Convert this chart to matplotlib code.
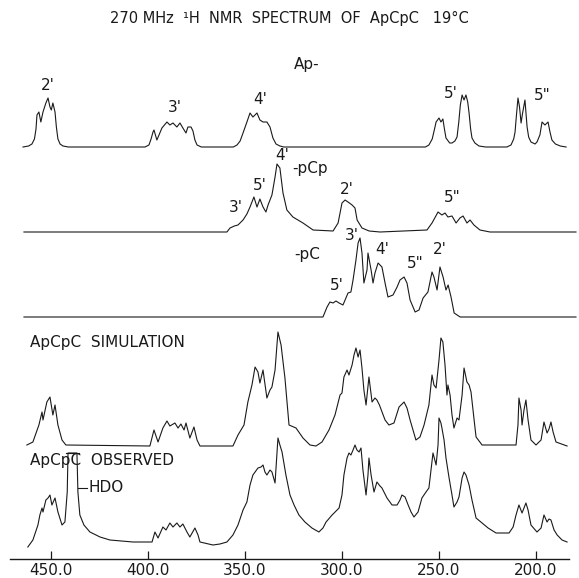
import numpy as np
import matplotlib
matplotlib.use("Agg")
import matplotlib.pyplot as plt

# chemical shift in Hz from TSP (270 MHz), intensities in arbitrary units

ap_hz = [464.4, 461.5, 459.8, 458.5, 457.7, 457.2, 456.2, 455.2, 454.1, 452.6, 451.5, 450.5, 449.8, 449.0,
         447.9, 447.2, 446.4, 445.3, 443.8, 441.0,
         401.5, 399.5, 398.4, 397.4, 396.9, 395.4, 394.3, 392.8, 390.2, 388.7, 387.1, 385.1, 383.5, 382.0,
         380.4, 379.4, 377.8, 376.8, 375.8, 374.7, 372.5,
         356.0, 354.1, 352.5, 351.0, 349.0, 347.4, 345.9, 343.8, 342.3, 340.7, 338.7, 337.1, 335.6, 334.0,
         332.0, 330.0,
         257.0, 255.2, 253.5, 252.3, 251.5, 250.0, 249.0, 248.0, 247.2, 246.4, 244.5, 243.3, 241.8, 240.7,
         239.8, 239.0, 238.1, 237.1, 236.1, 235.2, 234.5, 233.7, 233.0, 231.5, 229.4, 226.0,
         215.0, 212.9, 211.5, 210.8, 210.3, 209.3, 208.5, 207.7, 207.0, 205.7, 204.6, 203.8, 202.6, 200.5,
         199.5, 198.0, 196.9, 195.4, 193.8, 192.8, 191.8, 190.0, 187.5, 184.5]
ap_int = [0, 1, 3, 8, 18, 32, 35, 25, 35, 44, 49, 40, 37, 44,
          35, 20, 8, 3, 1, 0,
          0, 2, 8, 15, 17, 7, 12, 19, 25, 22, 24, 20, 24, 19,
          14, 20, 20, 16, 7, 2, 0,
          0, 2, 6, 14, 25, 34, 30, 34, 27, 25, 25, 20, 9, 3,
          1, 0,
          0, 2, 8, 18, 25, 29, 25, 28, 18, 9, 4, 4, 6, 10,
          25, 42, 52, 47, 52, 45, 34, 18, 9, 4, 1, 0,
          0, 2, 8, 15, 27, 49, 40, 24, 33, 47, 20, 10, 5, 3,
          5, 12, 25, 22, 25, 15, 7, 3, 1, 0]

pcp_hz = [463.9, 359.3, 357.7, 355.5, 353.6, 351.0, 349.0, 347.4, 345.4, 343.8, 342.3, 340.7, 339.2, 338.1,
          336.1, 334.5, 333.5, 332.0, 330.4, 328.4, 325.3, 320.1, 314.9, 304.6, 302.0, 300.0, 298.4,
          296.9, 294.8, 293.3, 292.2, 289.7, 286.0, 280.4, 256.2, 253.6, 250.5, 248.5, 246.9, 245.4,
          243.3, 241.2, 239.2, 237.6, 235.6, 234.0, 232.0, 228.9, 223.7, 179.4]
pcp_int = [0, 0, 4, 6, 7, 12, 18, 25, 35, 25, 33, 25, 20, 27,
           37, 55, 68, 64, 39, 22, 15, 9, 2, 1, 9, 29, 32,
           30, 27, 24, 12, 4, 1, 0, 2, 9, 20, 17, 19, 15,
           16, 9, 14, 16, 9, 12, 7, 2, 0, 0]

pc_hz = [463.9, 309.8, 307.7, 306.2, 304.6, 303.1, 301.5, 299.5, 298.4, 296.9, 295.4, 294.3, 292.8, 291.7,
         290.7, 289.7, 288.7, 287.1, 286.6, 285.0, 284.0, 283.0, 281.4, 279.4, 277.8, 276.3, 273.7,
         271.6, 270.1, 268.0, 266.5, 264.9, 262.3, 260.3, 258.2, 255.7, 253.6, 252.6, 251.0, 249.5,
         247.9, 246.4, 245.3, 243.8, 242.2, 239.1, 179.4]
pc_int = [0, 0, 10, 15, 14, 16, 14, 12, 17, 24, 25, 37, 57, 74,
          79, 64, 34, 47, 64, 47, 34, 44, 54, 50, 34, 20, 22,
          30, 37, 40, 34, 17, 5, 7, 19, 25, 45, 40, 27, 50,
          40, 27, 32, 20, 4, 0, 0]

sim_hz = [462.4, 459.3, 456.2, 454.6, 454.1, 452.1, 450.5, 449.0, 447.9, 446.4, 444.3, 442.3,
          399.0, 396.9, 394.8, 392.3, 390.2, 388.7, 386.1, 384.5, 383.0, 381.4, 380.4, 378.4, 376.3,
          374.7, 373.2,
          356.2, 353.6, 350.5, 348.5, 346.4, 344.8, 343.3, 342.3, 340.7, 338.7, 337.1, 336.1, 334.5,
          333.0, 331.4, 329.4, 327.3, 323.7, 320.1, 316.5, 313.4, 310.3, 306.7, 303.6, 301.0, 300.0,
          299.0, 297.4, 296.4, 294.8, 293.8, 292.8, 291.7, 290.7, 289.7, 288.7, 287.6, 286.1, 284.5,
          283.0, 282.0, 280.7, 277.8, 275.8, 273.2, 270.6, 268.0, 266.5, 264.9, 261.9, 259.8, 257.7,
          255.2, 253.6, 252.6, 251.5, 250.0, 249.0, 248.0, 246.9, 245.9, 245.4, 244.3, 243.3, 242.3,
          240.7, 239.7, 238.1, 237.1, 235.6, 234.5, 233.5, 231.9, 230.9, 227.8,
          210.3, 209.3, 208.8, 207.7, 207.2, 206.2, 205.2, 204.1, 202.6, 200.0, 197.4, 195.9, 194.3,
          193.3, 192.3, 191.2, 189.7, 184.0]
sim_int = [1, 4, 21, 34, 26, 44, 49, 31, 41, 21, 6, 1,
           0, 16, 4, 18, 25, 20, 23, 18, 22, 16, 23, 8, 19,
           6, 0,
           0, 11, 21, 44, 61, 79, 74, 63, 76, 48, 56, 59, 76,
           114, 101, 68, 21, 18, 8, 1, 0, 4, 16, 31, 51, 53,
           69, 76, 71, 81, 91, 98, 89, 96, 78, 56, 41, 69, 44,
           48, 46, 41, 26, 21, 23, 39, 44, 38, 26, 6, 9, 21,
           41, 71, 61, 58, 86, 108, 104, 81, 51, 61, 51, 31, 18,
           28, 26, 51, 78, 64, 61, 54, 26, 9, 1,
           1, 21, 48, 36, 21, 36, 46, 26, 6, 1, 6, 24, 13,
           17, 24, 14, 4, 0]

obs_hz = [461.9, 459.3, 456.7, 455.7, 454.6, 454.1, 452.6, 451.5, 450.5, 449.5, 447.9, 446.4, 444.3,
          442.8, 441.6, 441.2, 436.6, 436.1, 435.1, 433.0, 429.9, 424.7, 419.6, 407.7, 397.9,
          396.4, 394.8, 392.3, 390.7, 388.7, 387.1, 385.1, 383.5, 382.0, 379.9, 378.4, 375.8, 374.2,
          373.2, 366.5, 362.9, 359.3, 356.2, 353.6, 351.0, 349.0, 347.4, 345.9, 343.3, 341.7, 340.7,
          339.7, 338.7, 337.1, 336.1, 334.5, 333.0, 332.0, 330.9, 328.9, 326.8, 324.7, 322.2, 319.1,
          315.5, 311.9, 309.8, 308.2, 305.1, 301.5, 300.0, 299.0, 297.4, 296.4, 295.4, 294.3, 293.3,
          292.3, 291.2, 290.2, 289.2, 287.6, 286.6, 286.1, 285.0, 283.5, 282.0, 280.4, 279.4, 276.8,
          274.2, 271.6, 270.1, 269.1, 267.5, 265.9, 264.4, 262.9, 260.8, 258.8, 256.7, 255.2, 254.1,
          253.1, 251.5, 250.5, 250.0, 249.0, 248.5, 247.4, 246.4, 244.8, 243.3, 242.3, 240.7, 239.7,
          238.1, 237.1, 236.1, 234.5, 233.0, 230.9, 227.8, 224.7, 220.6, 213.9, 211.8, 210.3, 208.8,
          207.2, 205.2, 204.1, 202.6, 199.5, 197.4, 195.9, 194.3, 193.3, 192.3, 190.7, 189.1, 186.6,
          184.0]
obs_int = [-5, 2, 17, 27, 34, 30, 42, 44, 47, 37, 44, 30, 17,
           20, 50, 89, 89, 50, 27, 17, 10, 5, 2, 0, 0,
           10, 4, 15, 12, 19, 15, 19, 15, 18, 10, 5, 14, 7,
           0, -3, -2, 0, 7, 17, 32, 40, 57, 67, 74, 75, 77,
           70, 67, 72, 70, 59, 104, 97, 90, 67, 47, 37, 27, 20,
           14, 10, 14, 20, 27, 34, 47, 67, 84, 89, 87, 92, 97,
           92, 90, 94, 72, 47, 67, 84, 67, 50, 60, 56, 54, 44,
           37, 37, 42, 47, 45, 37, 30, 25, 30, 44, 50, 54, 72,
           89, 77, 97, 124, 119, 114, 102, 84, 64, 47, 35, 40, 45,
           64, 70, 67, 57, 42, 24, 19, 14, 9, 9, 15, 27, 37,
           29, 39, 32, 17, 10, 14, 27, 20, 23, 22, 12, 7, 2,
           0]

xticks = [450.0, 400.0, 350.0, 300.0, 250.0, 200.0]
title = "270 MHz  ¹H  NMR  SPECTRUM  OF  ApCpC   19°C"

# vertical offset of each trace (same units as intensity)
off_ap, off_pcp, off_pc, off_sim, off_obs = 412, 327, 242, 113, 17

W, H = 579, 578
fig = plt.figure(figsize=(W / 100, H / 100), dpi=100)
ax = fig.add_axes([10 / W, (H - 559) / H, 559 / W, 559 / H])
ax.set_xlim(471.1, 183.0)
ax.set_ylim(0, 559)

ink = "#1a1a1a"
kw = dict(color=ink, lw=0.8, clip_on=False)
ax.plot(ap_hz, np.array(ap_int) + off_ap, **kw)
ax.plot(pcp_hz, np.array(pcp_int) + off_pcp, **kw)
ax.plot(pc_hz, np.array(pc_int) + off_pc, **kw)
ax.plot(sim_hz, np.array(sim_int) + off_sim, **kw)
ax.plot(obs_hz, np.array(obs_int) + off_obs, **kw)

# HDO peak runs off scale: cap bar on its flat top, and a lead to the label
hdo = [i for h, i in zip(obs_hz, obs_int) if h > 430]
top = max(hdo) + off_obs
ax.plot([442.4, 435.4], [top, top], **kw)
ax.plot([436.0, 431.6], [71, 71], **kw)

fs = 11
t = dict(color=ink, fontsize=fs, ha="center", va="center")
fig.text(0.5, 1 - 18 / H, title, color=ink, fontsize=10.5, ha="center", va="center")

ax.text(318.0, 494, "Ap-", **t)
ax.text(451.5, 473, "2'", **t)
ax.text(386.1, 451, "3'", **t)
ax.text(342.3, 459, "4'", **t)
ax.text(243.8, 466, "5'", **t)
ax.text(196.9, 464, '5"', **t)

ax.text(330.6, 403, "4'", **t)
ax.text(316.5, 390, "-pCp", **t)
ax.text(342.3, 374, "5'", **t)
ax.text(354.6, 352, "3'", **t)
ax.text(297.4, 369, "2'", **t)
ax.text(243.3, 361, '5"', **t)

ax.text(294.8, 324, "3'", **t)
ax.text(318.0, 304, "-pC", **t)
ax.text(279.4, 309, "4'", **t)
ax.text(262.4, 296, '5"', **t)
ax.text(249.5, 309, "2'", **t)
ax.text(302.6, 274, "5'", **t)

ax.text(460.8, 217, "ApCpC  SIMULATION", color=ink, fontsize=fs, ha="left", va="center")
ax.text(460.8, 98, "ApCpC  OBSERVED", color=ink, fontsize=fs, ha="left", va="center")
ax.text(430.9, 71, "HDO", color=ink, fontsize=fs, ha="left", va="center")

for s in ["top", "left", "right"]:
    ax.spines[s].set_visible(False)
ax.spines["bottom"].set_color(ink)
ax.spines["bottom"].set_linewidth(1.0)
ax.set_yticks([])
ax.set_xticks(xticks)
ax.set_xticklabels([f"{v:.1f}" for v in xticks])
ax.tick_params(axis="x", direction="in", length=6, width=0.9, color=ink,
               labelsize=fs, labelcolor=ink, pad=3)
ax.patch.set_alpha(0)

fig.savefig("out.png", dpi=100)
